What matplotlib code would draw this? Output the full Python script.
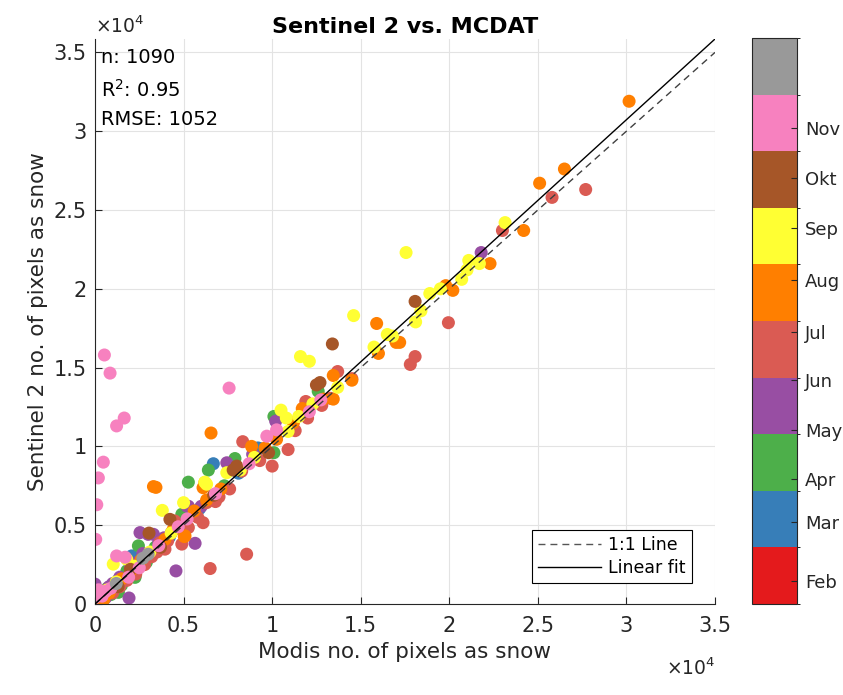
import numpy as np
import matplotlib
matplotlib.use("Agg")
import matplotlib.pyplot as plt
from matplotlib.colors import ListedColormap, BoundaryNorm
from matplotlib.lines import Line2D

# scatter points, grouped by colour of the colourbar (bottom -> top)
feb_x = [150, 450]
feb_y = [250, 350]
mar_x = [6680, 9280, 9200, 2070, 300, 700, 1600, 2900, 4200, 5900, 8100, 1100, 3500, 600,
         2400, 1300, 200]
mar_y = [8900, 9860, 9900, 3050, 200, 550, 1450, 3100, 4250, 6050, 8300, 1000, 3650, 750,
         2300, 1500, 450]
apr_x = [12600, 10100, 10100, 5270, 6400, 7900, 4900, 2450, 1320, 2260, 2260, 500, 1100, 1800,
         3400, 4600, 5500, 7300, 900, 2900, 700, 1500, 3800, 300]
apr_y = [13500, 11900, 9600, 7730, 8500, 9230, 5690, 3690, 740, 1690, 1790, 300, 1300, 2100,
         3600, 4800, 5700, 7500, 600, 2650, 1000, 1200, 4000, 500]
may_x = [21800, 10200, 8900, 7440, 9000, 5270, 5200, 2540, 3300, 3000, 4570, 5650, 1920, 0,
         600, 1400, 2300, 3900, 4800, 6000, 11200, 200, 2000, 3600, 1000, 2700, 4300, 800]
may_y = [22300, 11600, 9500, 8960, 9400, 6200, 6200, 4530, 4420, 4420, 2100, 3850, 380, 1260,
         400, 1700, 2600, 4200, 5000, 6200, 11100, 500, 2300, 3900, 1300, 3200, 4500, 1100]
jul_x = [25800, 27700, 23000, 19950, 18070, 17800, 13700, 13300, 14500, 11900, 12000, 10900,
         10000, 8340, 8280, 8560, 6500, 6100, 6300, 5270, 4500, 4900, 3950, 3670, 1800, 2800,
         3200, 4100, 5800, 7000, 9300, 11300, 12800, 1000, 2300, 6800, 7600, 500, 1400, 3500]
jul_y = [25800, 26300, 23700, 17850, 15700, 15200, 14750, 13050, 14300, 12850, 11800, 9800,
         8750, 10300, 8430, 3160, 2250, 5160, 6430, 4850, 5270, 3800, 3480, 3900, 1500, 2500,
         3000, 4000, 5500, 6800, 9100, 11000, 12600, 700, 1900, 6500, 7300, 400, 1100, 3300]
aug_x = [30150, 26500, 25100, 24200, 22300, 19800, 20200, 15900, 17000, 17200, 16000, 13450,
         14500, 13450, 11700, 10250, 8840, 6550, 3440, 3300, 6100, 6200, 5040, 5080, 3950, 0,
         200, 800, 1500, 2600, 4400, 5600, 6300, 7100, 9600, 11200, 12900, 100, 300, 500, 2000]
aug_y = [31900, 27600, 26700, 23700, 21600, 20200, 19900, 17800, 16600, 16600, 15900, 14500,
         14200, 13000, 12400, 10450, 10000, 10850, 7400, 7450, 7380, 7700, 4280, 4320, 4100, 0,
         100, 700, 1600, 2800, 4700, 5900, 6600, 7300, 9900, 11500, 13000, 250, 50, 300, 2100]
sep_x = [23150, 17560, 21100, 21700, 21000, 20700, 18900, 18400, 14600, 18100, 11600, 12100,
         16500, 16800, 15750, 13700, 10500, 10800, 10900, 7440, 3800, 6200, 5000, 1030, 1790,
         6300, 2200, 4300, 9000, 11500, 12300, 19500, 700, 8200, 1200, 3100]
sep_y = [24200, 22300, 21800, 21600, 21200, 20600, 19700, 18600, 18300, 17900, 15700, 15400,
         17100, 17000, 16300, 13750, 12300, 11800, 10950, 8330, 5940, 7730, 6430, 2530, 2840,
         7600, 2400, 4500, 9300, 11900, 12700, 20000, 900, 8500, 1400, 3300]
okt_x = [18070, 13400, 12500, 12700, 8000, 7800, 4230, 3050, 2000, 6700, 1300, 9800, 3700]
okt_y = [19200, 16500, 13900, 14050, 8750, 8500, 5370, 4500, 2200, 6900, 1100, 9600, 3600]
nov_x = [530, 850, 1220, 1650, 470, 190, 100, 40, 7570, 12750, 12100, 10250, 9700, 1220, 1700,
         400, 900, 2500, 3600, 5200, 6800, 8700, 200, 4700, 1900, 600, 0]
nov_y = [15800, 14650, 11300, 11800, 9000, 8000, 6300, 4100, 13700, 12950, 12200, 11050, 10650,
         3050, 2970, 500, 1000, 2300, 3700, 5400, 7000, 8900, 900, 4900, 1700, 800, 400]
dec_x = [3000, 2700, 1200]
dec_y = [3160, 2900, 1300]

colors = ["#E41A1C", "#377EB8", "#4DAF4A", "#984EA3", "#DA5B53",
          "#FF7F00", "#FFFF33", "#A65628", "#F781BF", "#999999"]
month_labels = ["Feb", "Mar", "Apr", "May", "Jun", "Jul", "Aug", "Sep", "Okt", "Nov"]
month_ticks = [0.41, 1.45, 2.2, 3.07, 3.95, 4.8, 5.73, 6.64, 7.52, 8.41]

fit_slope = 1.0243
fit_intercept = 0
stats = ["n: 1090", r"R$^{2}$: 0.95", "RMSE: 1052"]

plt.rcParams["font.family"] = "DejaVu Sans"
plt.rcParams["mathtext.default"] = "regular"
dark = "#262626"

groups = [(feb_x, feb_y), (mar_x, mar_y), (apr_x, apr_y), (may_x, may_y), (jul_x, jul_y),
          (aug_x, aug_y), (sep_x, sep_y), (okt_x, okt_y), (nov_x, nov_y), (dec_x, dec_y)]
xs, ys, cs = [], [], []
for i, (gx, gy) in enumerate(groups):
    xs += gx
    ys += gy
    cs += [i + 0.5] * len(gx)

fig = plt.figure(figsize=(8.43, 6.95), dpi=100)
ax = fig.add_axes([95 / 843, 91 / 695, 620 / 843, 565 / 695])
cax = fig.add_axes([752 / 843, 91 / 695, 45 / 843, 566 / 695])

cmap = ListedColormap(colors)
norm = BoundaryNorm(np.arange(11), cmap.N)
sc = ax.scatter(xs, ys, c=cs, cmap=cmap, norm=norm, s=88, edgecolors="none", zorder=2)

lx = np.array([0, 35000])
ax.plot(lx, lx, color="#404040", lw=1, linestyle=(0, (5, 3.6)), zorder=3)
ax.plot(lx, fit_slope * lx + fit_intercept, color="black", lw=1, zorder=3)

ax.set_xlim(0, 35000)
ax.set_ylim(0, 35850)
ticks = np.arange(0, 35001, 5000)
tlabels = ["0", "0.5", "1", "1.5", "2", "2.5", "3", "3.5"]
ax.set_xticks(ticks)
ax.set_xticklabels(tlabels)
ax.set_yticks(ticks)
ax.set_yticklabels(tlabels)
ax.grid(True, color="#E3E3E3", lw=0.8, zorder=0)
ax.set_axisbelow(True)
for s in ["top", "right"]:
    ax.spines[s].set_visible(False)
for s in ["left", "bottom"]:
    ax.spines[s].set_color(dark)
    ax.spines[s].set_linewidth(0.8)
ax.tick_params(axis="both", direction="in", length=5, width=0.8, colors=dark, labelsize=15)
ax.tick_params(axis="x", pad=9)
ax.tick_params(axis="y", pad=6)

ax.set_xlabel("Modis no. of pixels as snow", fontsize=15.5, color=dark, labelpad=4)
ax.set_ylabel("Sentinel 2 no. of pixels as snow", fontsize=15.5, color=dark, labelpad=4)
ax.set_title("Sentinel 2 vs. MCDAT", fontsize=16, fontweight="bold", pad=4)

ax.text(0, 1.011, r"$\times10^{4}$", transform=ax.transAxes, fontsize=13.5, color=dark,
        ha="left", va="baseline")
ax.text(1, -0.125, r"$\times10^{4}$", transform=ax.transAxes, fontsize=13.5, color=dark,
        ha="right", va="baseline")

for t, yy in zip(stats, [0.9575, 0.897, 0.848]):
    ax.text(0.01, yy, t, transform=ax.transAxes, fontsize=14, color="black", va="baseline")

handles = [Line2D([], [], color="#555555", lw=1, linestyle=(0, (5, 3.6))),
           Line2D([], [], color="black", lw=1)]
leg = ax.legend(handles, ["1:1 Line", "Linear fit"], loc="lower right",
                bbox_to_anchor=((692 - 95) / 620, (604 - 583) / 565), borderaxespad=0,
                fontsize=12.5, handlelength=3.6, handletextpad=0.45, fancybox=False,
                framealpha=1, edgecolor="black", borderpad=0.35, labelspacing=0.3)
leg.get_frame().set_linewidth(0.8)

cb = fig.colorbar(sc, cax=cax, ticks=month_ticks)
cb.ax.set_yticklabels(month_labels)
cb.ax.tick_params(direction="in", length=4, width=0.8, labelsize=13, colors=dark, pad=6)
cb.outline.set_linewidth(0.8)
cb.outline.set_edgecolor(dark)

fig.savefig("out.png", dpi=100)
